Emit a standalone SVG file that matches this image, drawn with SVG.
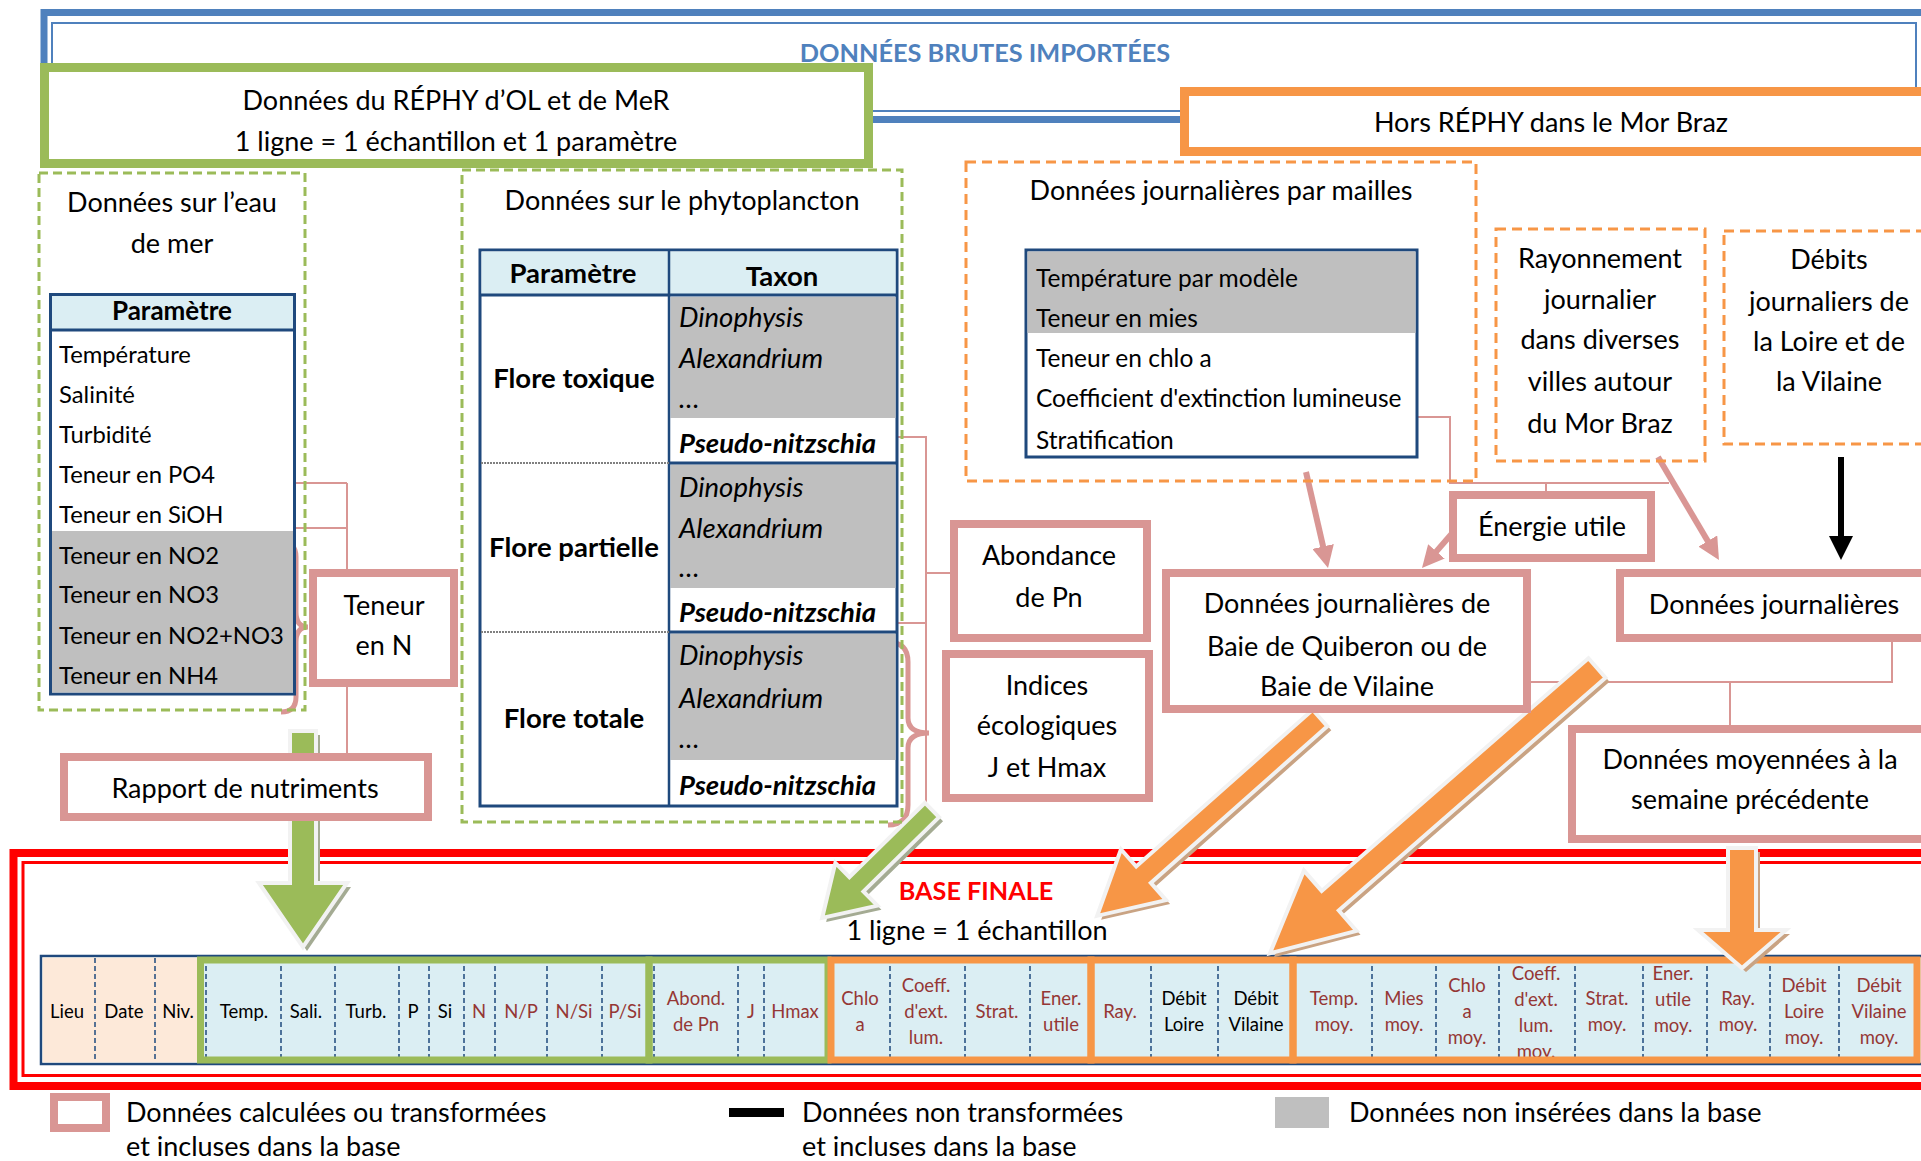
<svg xmlns="http://www.w3.org/2000/svg" width="1921" height="1161" viewBox="0 0 1921 1161">
<defs>
<style>
text{font-family:Lato,'Liberation Sans',sans-serif;fill:#000}
.h{font-size:27px}
.tb{font-size:24.5px}
.tl{font-size:23.8px}
.pb{font-size:27.5px}
.sm{font-size:18.5px}
.b{font-weight:bold}
.i{font-style:italic}
.c{text-anchor:middle}
.dr{fill:#953735}
.pk{fill:#fff;stroke:#d99694;stroke-width:8}
.cn{fill:none;stroke:#d99694;stroke-width:2}
.gd{fill:none;stroke:#9bbb59;stroke-width:3;stroke-dasharray:9 5}
.od{fill:none;stroke:#f79646;stroke-width:3;stroke-dasharray:10 6}
.dv{stroke:#1f497d;stroke-width:1.5;stroke-dasharray:5 3}
.ga{fill:#9bbb59;stroke:#f2f2f2;stroke-width:4}
.oa{fill:#f79646;stroke:#f2f2f2;stroke-width:4}
.gs{fill:#a4ab93}
.os{fill:#c9a383}
</style>
<marker id="mp" viewBox="0 0 22 22" refX="4" refY="11" markerWidth="22" markerHeight="22" markerUnits="userSpaceOnUse" orient="auto"><path d="M0,0 L22,11 L0,22 Z" fill="#d99694"/></marker>
<marker id="mk" viewBox="0 0 24 24" refX="4" refY="12" markerWidth="24" markerHeight="24" markerUnits="userSpaceOnUse" orient="auto"><path d="M0,0 L24,12 L0,24 Z" fill="#000"/></marker>
</defs>
<rect width="1921" height="1161" fill="#fff"/>

<!-- frames -->
<g id="frame-brutes">
<rect x="44" y="12.5" width="1900" height="107" fill="none" stroke="#4f81bd" stroke-width="7"/>
<rect x="52" y="23" width="1864" height="88" fill="none" stroke="#4f81bd" stroke-width="2"/>
<text x="985" y="62" class="b c" style="fill:#4f81bd;font-size:25.3px">DONNÉES BRUTES IMPORTÉES</text>
</g>
<g id="frame-base">
<rect x="13.5" y="853" width="1930" height="233" fill="none" stroke="#ff0000" stroke-width="8"/>
<rect x="23" y="862.5" width="1920" height="213" fill="none" stroke="#ff0000" stroke-width="3"/>
<text x="976" y="900" class="b c" style="fill:#ff0000;font-size:25.2px">BASE FINALE</text>
<text x="977" y="940" class="h c">1 ligne = 1 échantillon</text>
</g>

<!-- bottom table -->
<g id="base-table">
<rect x="41" y="956" width="1890" height="108" fill="#dbeef3" stroke="#1f497d" stroke-width="2.5"/>
<rect x="42.5" y="957.5" width="157" height="105" fill="#fde9d9"/>
<g>
<line class="dv" x1="95" y1="958" x2="95" y2="1062"/><line class="dv" x1="155" y1="958" x2="155" y2="1062"/>
<line class="dv" x1="206" y1="958" x2="206" y2="1062"/><line class="dv" x1="281" y1="958" x2="281" y2="1062"/>
<line class="dv" x1="335" y1="958" x2="335" y2="1062"/><line class="dv" x1="399" y1="958" x2="399" y2="1062"/>
<line class="dv" x1="429" y1="958" x2="429" y2="1062"/><line class="dv" x1="464" y1="958" x2="464" y2="1062"/>
<line class="dv" x1="495" y1="958" x2="495" y2="1062"/><line class="dv" x1="547" y1="958" x2="547" y2="1062"/>
<line class="dv" x1="602" y1="958" x2="602" y2="1062"/><line class="dv" x1="654" y1="958" x2="654" y2="1062"/>
<line class="dv" x1="738" y1="958" x2="738" y2="1062"/><line class="dv" x1="764" y1="958" x2="764" y2="1062"/>
<line class="dv" x1="890" y1="958" x2="890" y2="1062"/><line class="dv" x1="965" y1="958" x2="965" y2="1062"/>
<line class="dv" x1="1030" y1="958" x2="1030" y2="1062"/><line class="dv" x1="1151" y1="958" x2="1151" y2="1062"/>
<line class="dv" x1="1218" y1="958" x2="1218" y2="1062"/><line class="dv" x1="1372" y1="958" x2="1372" y2="1062"/>
<line class="dv" x1="1436" y1="958" x2="1436" y2="1062"/><line class="dv" x1="1499" y1="958" x2="1499" y2="1062"/>
<line class="dv" x1="1575" y1="958" x2="1575" y2="1062"/><line class="dv" x1="1643" y1="958" x2="1643" y2="1062"/>
<line class="dv" x1="1707" y1="958" x2="1707" y2="1062"/><line class="dv" x1="1770" y1="958" x2="1770" y2="1062"/>
<line class="dv" x1="1839" y1="958" x2="1839" y2="1062"/>
</g>
<g>
<text x="67" y="1018" class="sm c">Lieu</text>
<text x="124" y="1018" class="sm c">Date</text>
<text x="178" y="1018" class="sm c">Niv.</text>
<text x="244" y="1018" class="sm c">Temp.</text>
<text x="306" y="1018" class="sm c">Sali.</text>
<text x="366" y="1018" class="sm c">Turb.</text>
<text x="413" y="1018" class="sm c">P</text>
<text x="445" y="1018" class="sm c">Si</text>
<text x="479" y="1018" class="sm c dr">N</text>
<text x="521" y="1018" class="sm c dr">N/P</text>
<text x="574" y="1018" class="sm c dr">N/Si</text>
<text x="625" y="1018" class="sm c dr">P/Si</text>
<text x="696" y="1005" class="sm c dr">Abond.</text>
<text x="696" y="1031" class="sm c dr">de Pn</text>
<text x="751" y="1018" class="sm c dr">J</text>
<text x="795" y="1018" class="sm c dr">Hmax</text>
<text x="860" y="1005" class="sm c dr">Chlo</text>
<text x="860" y="1031" class="sm c dr">a</text>
<text x="926" y="992" class="sm c dr">Coeff.</text>
<text x="926" y="1018" class="sm c dr">d'ext.</text>
<text x="926" y="1044" class="sm c dr">lum.</text>
<text x="997" y="1018" class="sm c dr">Strat.</text>
<text x="1061" y="1005" class="sm c dr">Ener.</text>
<text x="1061" y="1031" class="sm c dr">utile</text>
<text x="1120" y="1018" class="sm c dr">Ray.</text>
<text x="1184" y="1005" class="sm c">Débit</text>
<text x="1184" y="1031" class="sm c">Loire</text>
<text x="1256" y="1005" class="sm c">Débit</text>
<text x="1256" y="1031" class="sm c">Vilaine</text>
<text x="1334" y="1005" class="sm c dr">Temp.</text>
<text x="1334" y="1031" class="sm c dr">moy.</text>
<text x="1404" y="1005" class="sm c dr">Mies</text>
<text x="1404" y="1031" class="sm c dr">moy.</text>
<text x="1467" y="992" class="sm c dr">Chlo</text>
<text x="1467" y="1018" class="sm c dr">a</text>
<text x="1467" y="1044" class="sm c dr">moy.</text>
<text x="1536" y="980" class="sm c dr">Coeff.</text>
<text x="1536" y="1006" class="sm c dr">d'ext.</text>
<text x="1536" y="1032" class="sm c dr">lum.</text>
<text x="1536" y="1058" class="sm c dr">moy.</text>
<text x="1607" y="1005" class="sm c dr">Strat.</text>
<text x="1607" y="1031" class="sm c dr">moy.</text>
<text x="1673" y="980" class="sm c dr">Ener.</text>
<text x="1673" y="1006" class="sm c dr">utile</text>
<text x="1673" y="1032" class="sm c dr">moy.</text>
<text x="1738" y="1005" class="sm c dr">Ray.</text>
<text x="1738" y="1031" class="sm c dr">moy.</text>
<text x="1804" y="992" class="sm c dr">Débit</text>
<text x="1804" y="1018" class="sm c dr">Loire</text>
<text x="1804" y="1044" class="sm c dr">moy.</text>
<text x="1879" y="992" class="sm c dr">Débit</text>
<text x="1879" y="1018" class="sm c dr">Vilaine</text>
<text x="1879" y="1044" class="sm c dr">moy.</text>
</g>
<rect x="200.5" y="960" width="448.5" height="100" fill="none" stroke="#9bbb59" stroke-width="7"/>
<rect x="649" y="960" width="179" height="100" fill="none" stroke="#9bbb59" stroke-width="7"/>
<rect x="831" y="960" width="260" height="100" fill="none" stroke="#f79646" stroke-width="7"/>
<rect x="1091" y="960" width="202" height="100" fill="none" stroke="#f79646" stroke-width="7"/>
<rect x="1293" y="960" width="624" height="100" fill="none" stroke="#f79646" stroke-width="7"/>
</g>

<!-- connectors -->
<g id="connectors">
<path class="cn" d="M250,483 H347 M250,528 H347 M347,483 V753"/>
<path class="cn" d="M877,437 H926 V805 M888,623 H926 M926,573 H950"/>
<path class="cn" d="M1404,417 H1450 V483 H1669 M1546,483 V491"/>
<path class="cn" d="M1531,682 H1892 V642 M1730,682 V725"/>
<path d="M281,542 Q296,542 296,557 L296,612 Q296,627 308,627 Q296,627 296,642 L296,697 Q296,712 281,712" fill="none" stroke="#d99694" stroke-width="5"/>
<path d="M888,642 Q908,642 908,662 L908,718 Q908,733 929,733 Q908,733 908,748 L908,805 Q908,825 888,825" fill="none" stroke="#d99694" stroke-width="5"/>
<line x1="1306" y1="472" x2="1324" y2="550.4" stroke="#d99694" stroke-width="6" marker-end="url(#mp)"/>
<line x1="1455" y1="530" x2="1433.8" y2="554.4" stroke="#d99694" stroke-width="6" marker-end="url(#mp)"/>
<line x1="1658" y1="457" x2="1709.8" y2="544.5" stroke="#d99694" stroke-width="6" marker-end="url(#mp)"/>
<line x1="1841" y1="457" x2="1841" y2="540" stroke="#000" stroke-width="6" marker-end="url(#mk)"/>
</g>

<!-- big arrows -->
<g id="big-arrows">
<g transform="translate(4,4)">
<path class="gs" transform="translate(303,731) rotate(90)" d="M0,-13 L152,-13 L152,-44 L216,0 L152,44 L152,13 L0,13 Z"/>
<path class="gs" transform="translate(932,810) rotate(135.5)" d="M0,-10 L106,-10 L106,-30 L154,0 L106,30 L106,10 L0,10 Z"/>
<path class="os" transform="translate(1320,718) rotate(138.4)" d="M0,-11 L236,-11 L236,-34 L298,0 L236,34 L236,11 L0,11 Z"/>
<path class="os" transform="translate(1597,668) rotate(138.9)" d="M0,-13 L354,-13 L354,-40 L434,0 L354,40 L354,13 L0,13 Z"/>
<path class="os" transform="translate(1742,848) rotate(90)" d="M0,-14 L82,-14 L82,-44 L120,0 L82,44 L82,14 L0,14 Z"/>
</g>
<path class="ga" transform="translate(303,731) rotate(90)" d="M0,-13 L152,-13 L152,-44 L216,0 L152,44 L152,13 L0,13 Z"/>
<path class="ga" transform="translate(932,810) rotate(135.5)" d="M0,-10 L106,-10 L106,-30 L154,0 L106,30 L106,10 L0,10 Z"/>
<path class="oa" transform="translate(1320,718) rotate(138.4)" d="M0,-11 L236,-11 L236,-34 L298,0 L236,34 L236,11 L0,11 Z"/>
<path class="oa" transform="translate(1597,668) rotate(138.9)" d="M0,-13 L354,-13 L354,-40 L434,0 L354,40 L354,13 L0,13 Z"/>
<path class="oa" transform="translate(1742,848) rotate(90)" d="M0,-14 L82,-14 L82,-44 L120,0 L82,44 L82,14 L0,14 Z"/>
</g>

<!-- nodes -->
<g id="rephy">
<rect x="44.5" y="67.5" width="824" height="96" fill="#fff" stroke="#9bbb59" stroke-width="9"/>
<text x="456" y="110" class="h c">Données du RÉPHY d’OL et de MeR</text>
<text x="456" y="151" class="h c">1 ligne = 1 échantillon et 1 paramètre</text>
</g>
<g id="hors-rephy">
<rect x="1184.5" y="91.5" width="745" height="60" fill="#fff" stroke="#f79646" stroke-width="9"/>
<text x="1551" y="132" class="h c">Hors RÉPHY dans le Mor Braz</text>
</g>

<g id="eau-de-mer">
<rect class="gd" x="39" y="173" width="266" height="537"/>
<text x="172" y="212" class="h c">Données sur l’eau</text>
<text x="172" y="253" class="h c">de mer</text>
<rect x="50.5" y="294.5" width="244" height="399.5" fill="#fff" stroke="#1f497d" stroke-width="3"/>
<rect x="52" y="296" width="241" height="33" fill="#dbeef3"/>
<rect x="52" y="531" width="241" height="161.5" fill="#bfbfbf"/>
<line x1="50" y1="330" x2="295" y2="330" stroke="#1f497d" stroke-width="3"/>
<text x="172" y="320" class="b c" style="font-size:26px">Paramètre</text>
<text x="59" y="363" class="tl">Température</text>
<text x="59" y="403" class="tl">Salinité</text>
<text x="59" y="443" class="tl">Turbidité</text>
<text x="59" y="483" class="tl">Teneur en PO4</text>
<text x="59" y="523" class="tl">Teneur en SiOH</text>
<text x="59" y="564" class="tl">Teneur en NO2</text>
<text x="59" y="603" class="tl">Teneur en NO3</text>
<text x="59" y="644" class="tl">Teneur en NO2+NO3</text>
<text x="59" y="684" class="tl">Teneur en NH4</text>
</g>

<g id="phytoplancton">
<rect class="gd" x="462" y="170" width="440" height="652"/>
<text x="682" y="210" class="h c">Données sur le phytoplancton</text>
<rect x="480" y="250" width="417" height="556" fill="#fff" stroke="#1f497d" stroke-width="3"/>
<rect x="481.5" y="251.5" width="414" height="43" fill="#dbeef3"/>
<rect x="670.5" y="297" width="225" height="121" fill="#bfbfbf"/>
<rect x="670.5" y="464.5" width="225" height="123.5" fill="#bfbfbf"/>
<rect x="670.5" y="633.5" width="225" height="126.5" fill="#bfbfbf"/>
<line x1="480" y1="295" x2="897" y2="295" stroke="#1f497d" stroke-width="3"/>
<line x1="669" y1="250" x2="669" y2="806" stroke="#1f497d" stroke-width="2.5"/>
<line x1="669" y1="463" x2="897" y2="463" stroke="#1f497d" stroke-width="3"/>
<line x1="669" y1="632" x2="897" y2="632" stroke="#1f497d" stroke-width="3"/>
<line x1="481" y1="463" x2="669" y2="463" stroke="#808080" stroke-width="2" stroke-dasharray="2 1"/>
<line x1="481" y1="632" x2="669" y2="632" stroke="#808080" stroke-width="2" stroke-dasharray="2 1"/>
<text x="573" y="283" class="pb b c">Paramètre</text>
<text x="782" y="286" class="pb b c">Taxon</text>
<text x="574" y="388" class="pb b c">Flore toxique</text>
<text x="574" y="557" class="pb b c">Flore partielle</text>
<text x="574" y="728" class="pb b c">Flore totale</text>
<text x="679" y="327" class="pb i">Dinophysis</text>
<text x="679" y="368" class="pb i">Alexandrium</text>
<text x="679" y="408" class="pb i">…</text>
<text x="679" y="453" class="pb i b">Pseudo-nitzschia</text>
<text x="679" y="497" class="pb i">Dinophysis</text>
<text x="679" y="538" class="pb i">Alexandrium</text>
<text x="679" y="577" class="pb i">…</text>
<text x="679" y="622" class="pb i b">Pseudo-nitzschia</text>
<text x="679" y="665" class="pb i">Dinophysis</text>
<text x="679" y="708" class="pb i">Alexandrium</text>
<text x="679" y="748" class="pb i">…</text>
<text x="679" y="795" class="pb i b">Pseudo-nitzschia</text>
</g>

<g id="mailles">
<rect class="od" x="966" y="162" width="510" height="319"/>
<text x="1221" y="200" class="h c">Données journalières par mailles</text>
<rect x="1026" y="250" width="391" height="207" fill="#fff" stroke="#1f497d" stroke-width="3"/>
<rect x="1027.5" y="251.5" width="388" height="81.5" fill="#bfbfbf"/>
<text x="1036" y="287" class="tb">Température par modèle</text>
<text x="1036" y="327" class="tb">Teneur en mies</text>
<text x="1036" y="367" class="tb">Teneur en chlo a</text>
<text x="1036" y="407" class="tb">Coefficient d'extinction lumineuse</text>
<text x="1036" y="449" class="tb">Stratification</text>
</g>

<g id="rayonnement">
<rect class="od" x="1496" y="229" width="209" height="232"/>
<text x="1600" y="268" class="h c">Rayonnement</text>
<text x="1600" y="309" class="h c">journalier</text>
<text x="1600" y="349" class="h c">dans diverses</text>
<text x="1600" y="391" class="h c">villes autour</text>
<text x="1600" y="433" class="h c">du Mor Braz</text>
</g>
<g id="debits">
<rect class="od" x="1724" y="231" width="210" height="213"/>
<text x="1829" y="269" class="h c">Débits</text>
<text x="1829" y="311" class="h c">journaliers de</text>
<text x="1829" y="351" class="h c">la Loire et de</text>
<text x="1829" y="391" class="h c">la Vilaine</text>
</g>

<g id="teneur-n">
<rect class="pk" x="313" y="573" width="141" height="110"/>
<text x="384" y="615" class="h c">Teneur</text>
<text x="384" y="655" class="h c">en N</text>
</g>
<g id="rapport">
<rect class="pk" x="64" y="757" width="364" height="60"/>
<text x="245" y="798" class="h c">Rapport de nutriments</text>
</g>
<g id="abondance">
<rect class="pk" x="954" y="524" width="193" height="114"/>
<text x="1049" y="565" class="h c">Abondance</text>
<text x="1049" y="607" class="h c">de Pn</text>
</g>
<g id="indices">
<rect class="pk" x="946" y="654" width="203" height="144"/>
<text x="1047" y="695" class="h c">Indices</text>
<text x="1047" y="735" class="h c">écologiques</text>
<text x="1047" y="777" class="h c">J et Hmax</text>
</g>
<g id="energie">
<rect class="pk" x="1453" y="495" width="198" height="63"/>
<text x="1552" y="536" class="h c">Énergie utile</text>
</g>
<g id="baie">
<rect class="pk" x="1166" y="573" width="361" height="136"/>
<text x="1347" y="613" class="h c">Données journalières de</text>
<text x="1347" y="656" class="h c">Baie de Quiberon ou de</text>
<text x="1347" y="696" class="h c">Baie de Vilaine</text>
</g>
<g id="journalieres">
<rect class="pk" x="1620" y="573" width="310" height="65"/>
<text x="1774" y="614" class="h c">Données journalières</text>
</g>
<g id="moyennees">
<rect class="pk" x="1572" y="729" width="360" height="110"/>
<text x="1750" y="769" class="h c">Données moyennées à la</text>
<text x="1750" y="809" class="h c">semaine précédente</text>
</g>

<!-- legend -->
<g id="legend">
<rect class="pk" x="54" y="1097" width="52" height="31"/>
<text x="126" y="1122" class="h">Données calculées ou transformées</text>
<text x="126" y="1156" class="h">et incluses dans la base</text>
<rect x="729" y="1108" width="55" height="9" fill="#000"/>
<text x="802" y="1122" class="h">Données non transformées</text>
<text x="802" y="1156" class="h">et incluses dans la base</text>
<rect x="1275" y="1097" width="54" height="31" fill="#bfbfbf"/>
<text x="1349" y="1122" class="h">Données non insérées dans la base</text>
</g>
</svg>
